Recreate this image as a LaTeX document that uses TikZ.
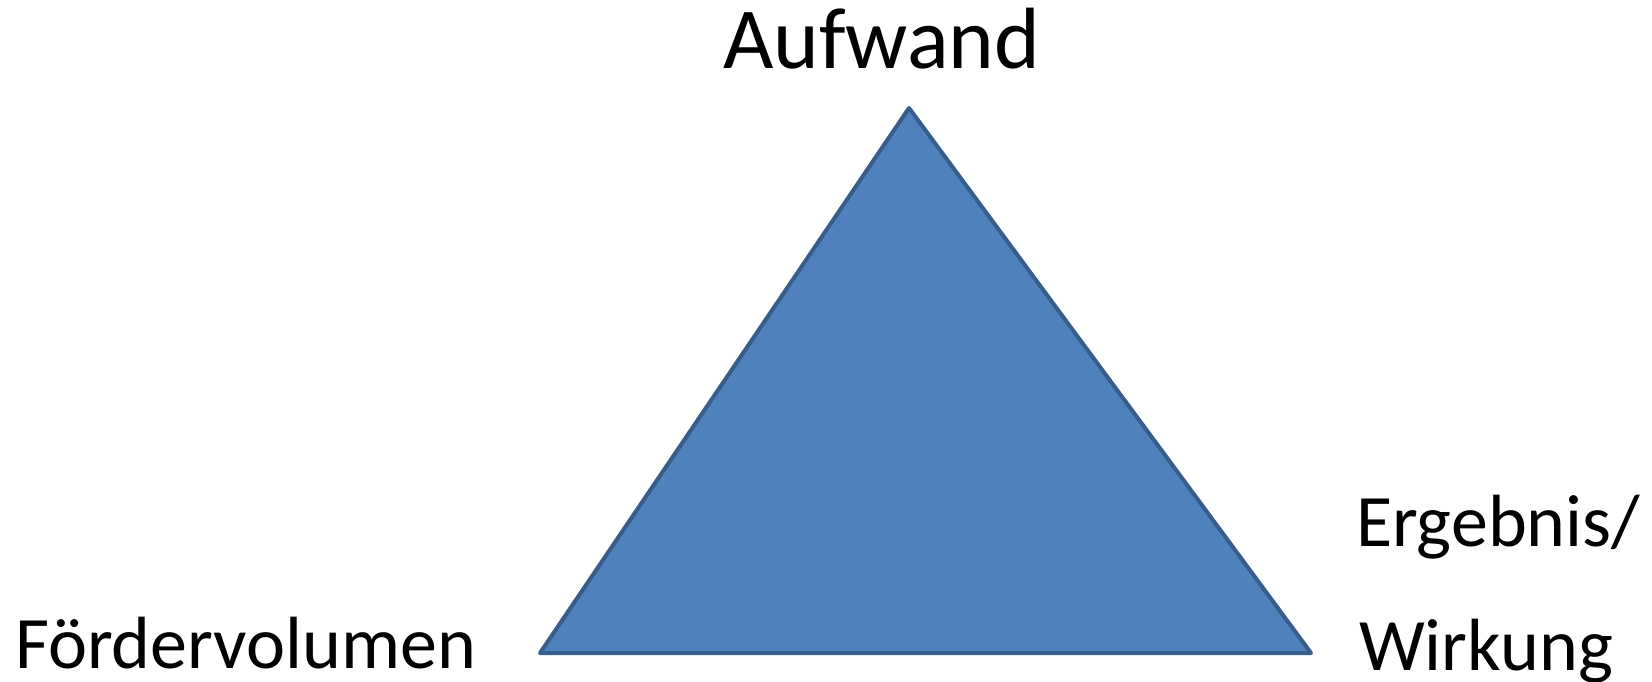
\documentclass[tikz,border=0pt]{standalone}
\usepackage{fontspec}
\setmainfont{Carlito}
\definecolor{trifill}{HTML}{4F81BD}
\definecolor{tridraw}{HTML}{385D8A}
\begin{document}
\begin{tikzpicture}[x=1pt,y=1pt,
  lbl/.style={inner sep=0pt, outer sep=0pt, anchor=base west, text=black},
  big/.style={lbl, font=\fontsize{87}{100}\selectfont},
  mid/.style={lbl, font=\fontsize{74}{90}\selectfont},
  tri/.style={fill=trifill, draw=tridraw, line width=4pt, line join=round}]
\useasboundingbox (0,0) rectangle (1652,681);
\coordinate (apex) at (909,573);
\coordinate (bl) at (540,28);
\coordinate (br) at (1311,28);
\draw[tri] (apex) -- (bl) -- (br) -- cycle;
\node[big] (aufwand) at (723,612.5) {Aufwand};
\node[mid] (foerder) at (15,12.5) {Fördervolumen};
\node[mid] (ergebnis) at (1356,135) {Ergebnis/};
\node[mid] (wirkung) at (1359,11) {Wirkung};
\end{tikzpicture}
\end{document}
